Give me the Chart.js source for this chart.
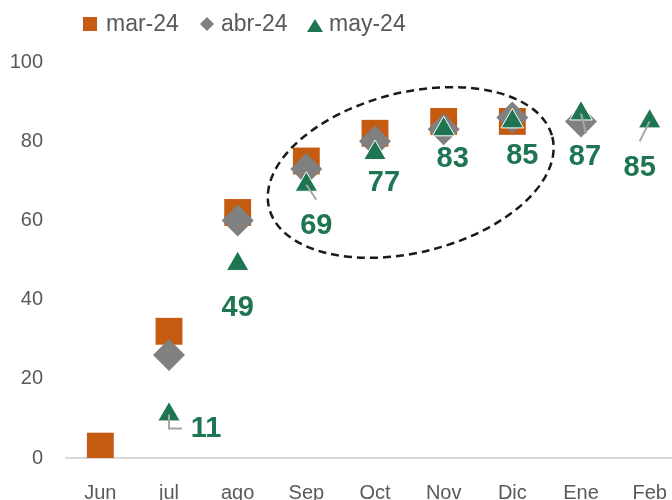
<!DOCTYPE html>
<html>
<head>
<meta charset="utf-8">
<script src="https://cdn.jsdelivr.net/npm/chart.js@4/dist/chart.umd.min.js"></script>
<style>
  html, body { margin: 0; padding: 0; background: #fff; overflow: hidden; width: 672px; height: 500px; }
  #wrap { position: relative; width: 703px; height: 520px; }
  .leg { position: absolute; top: 10px; font: 23px 'Liberation Sans', Arial, sans-serif; color: #595959; line-height: 27px; }
  .mk { position: absolute; }
</style>
</head>
<body>
<div id="wrap">
  <canvas id="chart" width="703" height="520"></canvas>
  <div class="mk" style="left:83px;top:17px;width:14px;height:14px;background:#c55a11"></div>
  <div class="leg" style="left:106px">mar-24</div>
  <div class="mk" style="left:202px;top:19px;width:10px;height:10px;background:#808080;transform:rotate(45deg)"></div>
  <div class="leg" style="left:221px">abr-24</div>
  <div class="mk" style="left:307px;top:19px;width:0;height:0;border-left:8px solid transparent;border-right:8px solid transparent;border-bottom:13px solid #1e7552"></div>
  <div class="leg" style="left:329px">may-24</div>
</div>
<script>
const MESES  = ["Jun", "jul", "ago", "Sep", "Oct", "Nov", "Dic", "Ene", "Feb"];
const MAR_24 = [3, 32, 62, 75, 82, 85, 85, null, null];
const ABR_24 = [null, 26, 60, 73, 80, 83, 86, 85, null];
const MAY_24 = [null, 11, 49, 69, 77, 83, 85, 87, 85];
const Y_TICKS = [0, 20, 40, 60, 80, 100];

const CORES = {
  naranja: "#c55a11",
  gris:    "#808080",
  verde:   "#1e7552",
  texto:   "#595959",
  eje:     "#d9d9d9",
  guia:    "#a6a6a6",
};

// desplazamiento de cada etiqueta de may-24 (px, desde el punto)
const NUDGE = [null, [37, 14], [0, 43], [10, 40], [9, 29], [9, 29], [10, 34], [4, 43], [-10, 46]];
// lineas guia (puntos relativos al marcador)
const GUIAS = {
  1: [[0, 0], [0, 14], [13, 14]],
  3: [[0, 0], [10, 15]],
  7: [[0, 0], [5, 20]],
  8: [[0, 0], [-10, 20]],
};

const etiquetasPlugin = {
  id: "etiquetas",
  afterDatasetsDraw(chart) {
    const ctx = chart.ctx;
    const meta = chart.getDatasetMeta(2);
    const xs = chart.scales.x, ys = chart.scales.y;

    // elipse punteada
    ctx.save();
    ctx.beginPath();
    ctx.ellipse(xs.getPixelForValue(4.52), ys.getPixelForValue(72.1), 146, 80, -14.1 * Math.PI / 180, 0, Math.PI * 2);
    ctx.setLineDash([8, 5]);
    ctx.lineWidth = 2.5;
    ctx.strokeStyle = "#1a1a1a";
    ctx.stroke();
    ctx.restore();

    ctx.save();
    ctx.strokeStyle = CORES.guia;
    ctx.lineWidth = 2;
    Object.entries(GUIAS).forEach(([i, pts]) => {
      const el = meta.data[i];
      ctx.beginPath();
      pts.forEach(([dx, dy], k) => k ? ctx.lineTo(el.x + dx, el.y + dy) : ctx.moveTo(el.x + dx, el.y + dy));
      ctx.stroke();
    });

    ctx.fillStyle = CORES.verde;
    ctx.font = "bold 29px 'Liberation Sans', Arial, sans-serif";
    ctx.textAlign = "center";
    ctx.textBaseline = "middle";
    MAY_24.forEach((v, i) => {
      if (v == null) return;
      const el = meta.data[i];
      ctx.fillText(v, el.x + NUDGE[i][0], el.y + NUDGE[i][1] + 1);
    });
    ctx.restore();
  }
};

const fuente = { family: "'Liberation Sans', Arial, sans-serif", size: 20 };

new Chart(document.getElementById("chart"), {
  type: "line",
  data: {
    labels: MESES,
    datasets: [
      { label: "mar-24", data: MAR_24, order: 3, showLine: false, pointStyle: "rect", pointRadius: 19, pointHoverRadius: 19,
        backgroundColor: CORES.naranja, borderColor: CORES.naranja, borderWidth: 0 },
      { label: "abr-24", data: ABR_24, order: 2, showLine: false, pointStyle: "rectRot", pointRadius: 16, pointHoverRadius: 16,
        backgroundColor: CORES.gris, borderColor: CORES.gris, borderWidth: 0 },
      { label: "may-24", data: MAY_24, order: 1, showLine: false, pointStyle: "triangle", pointRadius: 13, pointHoverRadius: 13,
        backgroundColor: CORES.verde, borderColor: "#ffffff", borderWidth: 1 },
    ]
  },
  options: {
    responsive: false,
    animation: false,
    layout: { padding: { top: 62, left: 10, right: 0, bottom: 16 } },
    plugins: { legend: { display: false }, tooltip: { enabled: false } },
    scales: {
      x: {
        offset: true,
        afterFit: s => { s.height = 46; },
        grid: { display: false, drawTicks: false },
        border: { display: true, color: CORES.eje, width: 2 },
        ticks: { color: CORES.texto, font: fuente, padding: 23, maxRotation: 0 }
      },
      y: {
        min: 0, max: 100,
        afterFit: s => { s.width = 56; },
        afterBuildTicks: s => { s.ticks = Y_TICKS.map(v => ({ value: v })); },
        grid: { display: false, drawTicks: false },
        border: { display: false },
        ticks: { color: CORES.texto, font: fuente, padding: 23 }
      }
    }
  },
  plugins: [etiquetasPlugin]
});
</script>
</body>
</html>
